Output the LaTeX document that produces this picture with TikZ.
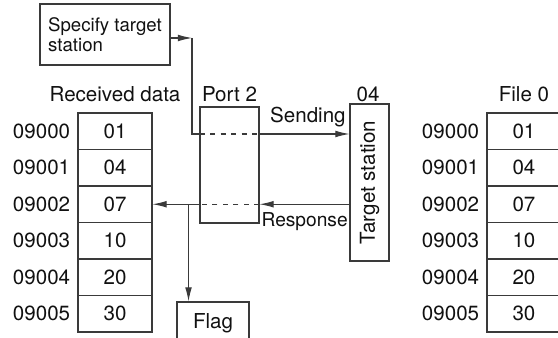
\documentclass[tikz,border=0pt]{standalone}
\usepackage{fontspec}
\setmainfont{TeX Gyre Heros}
\usetikzlibrary{arrows.meta,positioning}
\definecolor{FLLine}{HTML}{3A3A3A}
\definecolor{FLText}{HTML}{111111}

\begin{document}
\begin{tikzpicture}[x=1cm,y=1cm,
  font=\fontsize{11.7}{13}\selectfont,text=FLText,
  box/.style={draw=FLLine,line width=.6pt,inner sep=0pt},
  cell/.style={box,minimum width=1.48cm,minimum height=.73cm},
  addr/.style={anchor=east,inner sep=0pt},
  head/.style={anchor=base,inner sep=0pt},
  link/.style={FLLine,line width=.6pt},
  tip/.style={link,-{Latex[length=8pt,width=3.8pt]}}]
\path[use as bounding box] (0,0) rectangle (11.16,6.76);
\clip (0,0) rectangle (11.16,6.76);
\coordinate (hl) at (0,4.72);
\foreach \i/\v in {0/01,1/04,2/07,3/10,4/20,5/30}{
  \node[cell] (rd\i) at (2.30,4.135-.73*\i) {\v};
  \node[addr] at ([xshift=-.14cm]rd\i.west) {0900\i};
  \node[cell] (fd\i) at (10.48,4.135-.73*\i) {\v};
  \node[addr] at ([xshift=-.14cm]fd\i.west) {0900\i};
}
\node[box,minimum width=2.6cm,minimum height=1.22cm,align=left,font=\fontsize{10.6}{11.4}\selectfont] (spec) at (2.10,6.07) {Specify target\\station};
\node[box,minimum width=1.18cm,minimum height=2.32cm] (port) at (4.59,3.46) {};
\node[box,rotate=90,minimum width=3.14cm,minimum height=.78cm] (tgt) at (7.39,3.11) {Target station};
\node[box,minimum width=1.44cm,minimum height=.84cm] (flag) at (4.26,0.30) {Flag};
\node[head] (rdhead) at (rd0 |- hl) {Received data};
\node[head] (fdhead) at (fd0 |- hl) {File 0};
\node[head] (porthead) at (port |- hl) {Port 2};
\node[head] (tgthead) at (7.36,4.72) {04};
\node[anchor=base east,inner sep=0pt] (send) at (6.92,4.30) {Sending};
\node[anchor=base east,inner sep=0pt,font=\fontsize{10.9}{12}\selectfont] (resp) at (6.96,2.22) {Response};
\coordinate (bend) at (3.84,6.0);
\coordinate (drop) at (3.84,4.08);
\path (rd2.east) ++(.72,0) coordinate (split);
\draw[tip] (spec.east |- bend) -- (bend);
\draw[link] (bend) -- (drop) -- (port.west |- drop);
\draw[link,dashed] (port.west |- drop) -- (port.east |- drop);
\draw[tip] (port.east |- drop) -- (tgt.north |- drop);
\draw[tip] (tgt.north |- rd2) -- (port.east |- rd2);
\draw[link,dashed] (port.east |- rd2) -- (port.west |- rd2);
\draw[tip] (port.west |- rd2) -- (rd2.east);
\draw[tip] (split) -- (split |- flag.north);
\end{tikzpicture}
\end{document}
